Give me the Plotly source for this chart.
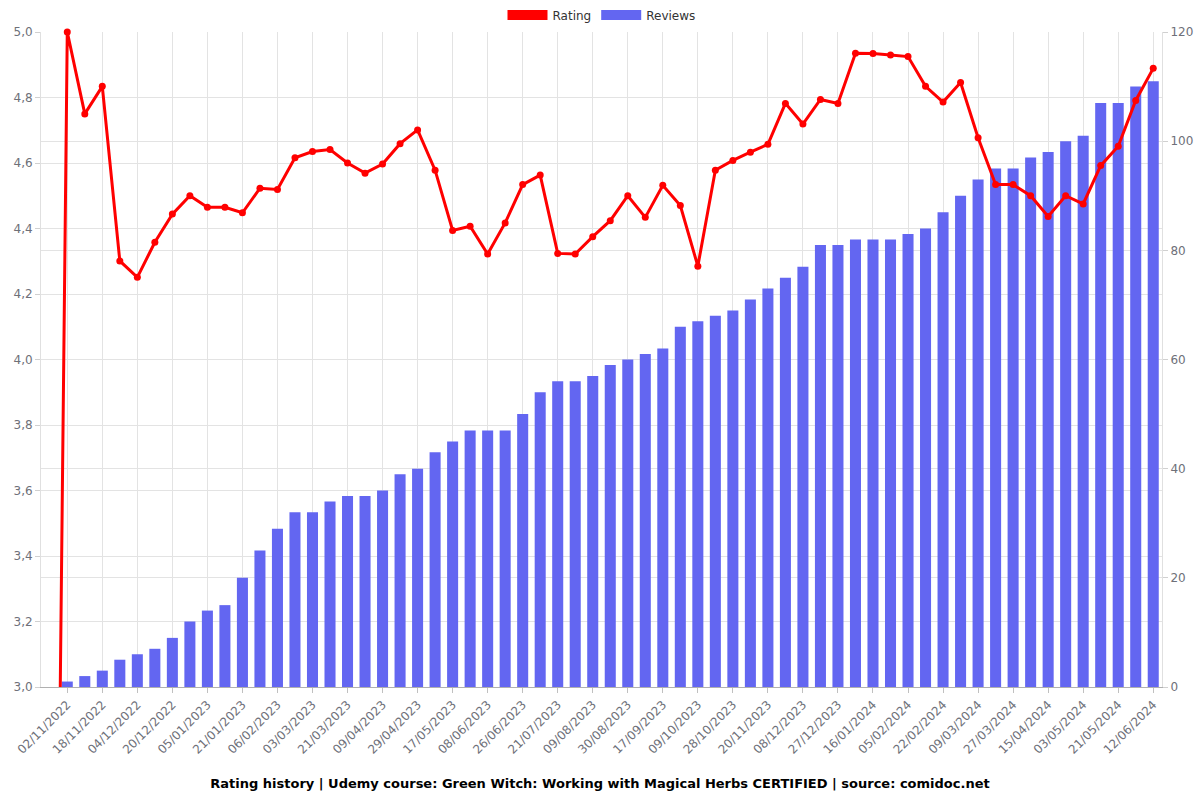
import plotly.graph_objects as go

dates = [
    "27/10/2022", "02/11/2022", "10/11/2022", "18/11/2022", "26/11/2022", "04/12/2022",
    "12/12/2022", "20/12/2022", "28/12/2022", "05/01/2023", "13/01/2023", "21/01/2023",
    "29/01/2023", "06/02/2023", "18/02/2023", "03/03/2023", "12/03/2023", "21/03/2023",
    "30/03/2023", "09/04/2023", "19/04/2023", "29/04/2023", "08/05/2023", "17/05/2023",
    "27/05/2023", "08/06/2023", "17/06/2023", "26/06/2023", "08/07/2023", "21/07/2023",
    "30/07/2023", "09/08/2023", "19/08/2023", "30/08/2023", "08/09/2023", "17/09/2023",
    "28/09/2023", "09/10/2023", "18/10/2023", "28/10/2023", "08/11/2023", "20/11/2023",
    "29/11/2023", "08/12/2023", "17/12/2023", "27/12/2023", "06/01/2024", "16/01/2024",
    "25/01/2024", "05/02/2024", "13/02/2024", "22/02/2024", "01/03/2024", "09/03/2024",
    "18/03/2024", "27/03/2024", "06/04/2024", "15/04/2024", "24/04/2024", "03/05/2024",
    "12/05/2024", "21/05/2024", "01/06/2024", "12/06/2024",
]

ratings = [
    0, 5.0, 4.750, 4.834, 4.301, 4.251, 4.358, 4.444, 4.500, 4.465, 4.465, 4.448,
    4.523, 4.519, 4.616, 4.635, 4.641, 4.600, 4.569, 4.597, 4.659, 4.701, 4.578,
    4.394, 4.407, 4.322, 4.417, 4.534, 4.563, 4.324, 4.322, 4.375, 4.424, 4.500,
    4.434, 4.532, 4.470, 4.285, 4.578, 4.608, 4.633, 4.657, 4.782, 4.719, 4.794,
    4.782, 4.935, 4.934, 4.930, 4.925, 4.834, 4.786, 4.846, 4.677, 4.534, 4.534,
    4.500, 4.437, 4.500, 4.475, 4.592, 4.651, 4.791, 4.889,
]

reviews = [
    0, 1, 2, 3, 5, 6, 7, 9, 12, 14, 15, 20, 25, 29, 32, 32, 34, 35, 35, 36, 39,
    40, 43, 45, 47, 47, 47, 50, 54, 56, 56, 57, 59, 60, 61, 62, 66, 67, 68, 69, 71,
    73, 75, 77, 81, 81, 82, 82, 82, 83, 84, 87, 90, 93, 95, 95, 97, 98, 100, 101, 107,
    107, 110, 111,
]

tick_labels = dates[1::2]

title_text = ("Rating history | Udemy course: Green Witch: Working with Magical Herbs "
              "CERTIFIED | source: comidoc.net")

RED = "#ff0000"
BLUE = "#6366f1"
GRID = "#e3e3e3"
TXT = "#6e7079"
FONT = "DejaVu Sans, Verdana, sans-serif"

fig = go.Figure()

fig.add_trace(go.Bar(
    x=dates, y=reviews, name="Reviews", yaxis="y",
    marker=dict(color=BLUE, line=dict(width=0)),
    width=0.63, showlegend=False, hoverinfo="x+y",
))

fig.add_trace(go.Scatter(
    x=dates, y=ratings, name="Rating", yaxis="y2", mode="lines+markers",
    line=dict(color=RED, width=3), marker=dict(color=RED, size=7),
    cliponaxis=False, showlegend=False,
))

# legend swatches (wide rectangles like the reference legend)
for nm, col, rank in (("Rating", RED, 1), ("Reviews", BLUE, 2)):
    fig.add_trace(go.Scatter(
        x=[None], y=[None], name=nm, mode="lines", yaxis="y",
        line=dict(color=col, width=14), legendrank=rank, showlegend=True,
        hoverinfo="skip",
    ))

fig.update_layout(
    width=1200, height=800,
    margin=dict(l=41, r=38, t=32, b=113, autoexpand=False),
    paper_bgcolor="white", plot_bgcolor="white",
    separators=", ",
    font=dict(family=FONT, size=12, color=TXT),
    showlegend=True,
    legend=dict(
        orientation="h", x=0.5, xanchor="center", yref="container",
        y=1 - 15 / 800, yanchor="middle", font=dict(size=12, color="#333333"),
        itemwidth=40, traceorder="normal",
    ),
    title=dict(
        text=title_text, x=0.5, xanchor="center", yref="container",
        y=1 - 783 / 800, yanchor="middle",
        font=dict(family=FONT, size=13, color="#000000", weight="bold"),
    ),
    xaxis=dict(
        type="category", categoryorder="array", categoryarray=dates,
        tickmode="array", tickvals=tick_labels, ticktext=tick_labels,
        tickangle=-45, showgrid=True, gridcolor=GRID, gridwidth=1,
        ticks="outside", ticklen=5, tickcolor="#c0c0c0",
        showline=True, linecolor="#b0b0b0", linewidth=1,
        tickfont=dict(size=12, color=TXT), range=[-0.5, 63.5],
        automargin=False,
    ),
    yaxis=dict(
        side="right", range=[0, 120], dtick=20, tick0=0,
        showgrid=True, gridcolor=GRID, zeroline=False,
        ticks="outside", ticklen=5, tickcolor="#d0d0d0",
        showline=True, linecolor="#e0e0e0",
        tickfont=dict(size=12, color=TXT), automargin=False,
    ),
    yaxis2=dict(
        side="left", overlaying="y", range=[3, 5], dtick=0.2, tick0=3,
        tickformat=".1f", showgrid=True, gridcolor=GRID, zeroline=False,
        ticks="outside", ticklen=5, tickcolor="#d0d0d0",
        showline=True, linecolor="#e0e0e0",
        tickfont=dict(size=12, color=TXT), automargin=False,
    ),
)

fig.write_html("out.html")
